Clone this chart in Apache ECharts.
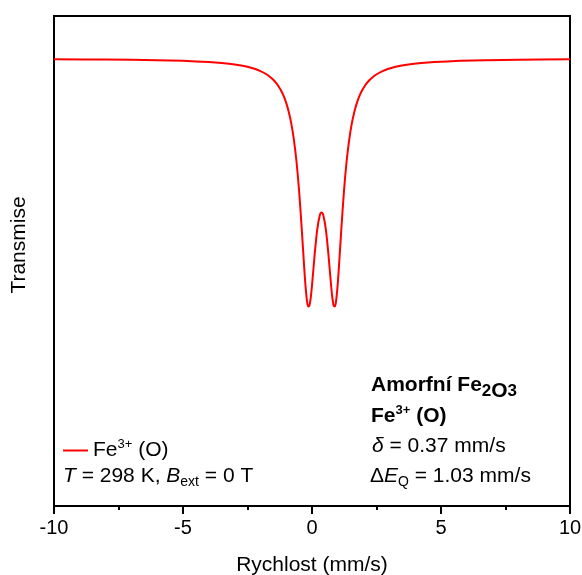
<!DOCTYPE html>
<html>
<head>
<meta charset="utf-8">
<script src="https://cdn.jsdelivr.net/npm/echarts@6/dist/echarts.min.js"></script>
<style>
  html, body { margin: 0; padding: 0; background: #fff; }
  #chart { width: 582px; height: 575px; }
</style>
</head>
<body>
<div id="chart"></div>
<script>
// Velocity (mm/s) and relative transmission, estimated from the reference spectrum
const velocity = [-10, -8, -6, -5, -4, -3.5, -3, -2.5, -2.2, -2,
  -1.8, -1.6, -1.5, -1.4, -1.3, -1.2, -1.1, -1, -0.9, -0.8,
  -0.7, -0.6, -0.5, -0.4, -0.3, -0.25, -0.2, -0.15, -0.1, -0.05,
  0, 0.1, 0.2, 0.3, 0.37, 0.44, 0.54, 0.64, 0.74, 0.79,
  0.84, 0.89, 0.94, 0.99, 1.04, 1.14, 1.24, 1.34, 1.44, 1.54,
  1.64, 1.74, 1.84, 1.94, 2.04, 2.14, 2.24, 2.34, 2.54, 2.74,
  2.94, 3.24, 3.74, 4.24, 4.74, 5.74, 6.74, 8, 10];
const transmission = [0.99977, 0.99964, 0.99937, 0.99911, 0.99864, 0.99825, 0.99765, 0.99670, 0.99581, 0.99500,
  0.99392, 0.99243, 0.99147, 0.99031, 0.98890, 0.98715, 0.98496, 0.98215, 0.97850, 0.97368,
  0.96719, 0.95842, 0.94667, 0.93176, 0.91540, 0.90817, 0.90283, 0.90010, 0.90040, 0.90348,
  0.90851, 0.92063, 0.93089, 0.93676, 0.93797, 0.93676, 0.93089, 0.92063, 0.90851, 0.90348,
  0.90040, 0.90010, 0.90283, 0.90817, 0.91540, 0.93176, 0.94667, 0.95842, 0.96719, 0.97368,
  0.97850, 0.98215, 0.98496, 0.98715, 0.98890, 0.99031, 0.99147, 0.99243, 0.99392, 0.99500,
  0.99581, 0.99670, 0.99765, 0.99825, 0.99864, 0.99911, 0.99937, 0.99956, 0.99973];
const seriesName = 'Fe3+ (O)';
const xTicks = [-10, -5, 0, 5, 10];

const FONT = '"Liberation Sans", Arial, sans-serif';
const chart = echarts.init(document.getElementById('chart'), null, { renderer: 'canvas' });

const base = { fontFamily: FONT, fontSize: 21, color: '#000', lineHeight: 23 };
const rich = {
  n: Object.assign({}, base),
  i: Object.assign({}, base, { fontStyle: 'italic' }),
  b: Object.assign({}, base, { fontWeight: 'bold' }),
  blow: Object.assign({}, base, { fontWeight: 'bold', padding: [12, 0, 0, 0] }),
  bsub: Object.assign({}, base, { fontWeight: 'bold', fontSize: 17, lineHeight: 19, padding: [12, 0, 0, 0] }),
  bsup: Object.assign({}, base, { fontWeight: 'bold', fontSize: 13, lineHeight: 15, padding: [0, 0, 12, 0] }),
  sup: Object.assign({}, base, { fontSize: 13, lineHeight: 15, padding: [0, 0, 12, 0] }),
  sub: Object.assign({}, base, { fontSize: 14, lineHeight: 15, padding: [12, 0, 0, 0] })
};

const option = {
  backgroundColor: '#fff',
  animation: false,
  grid: { left: 54, right: 12, top: 16, bottom: 69, containLabel: false, outerBoundsMode: 'none',
    show: true, borderColor: '#000', borderWidth: 2, backgroundColor: 'transparent' },
  xAxis: {
    type: 'value', min: -10, max: 10, interval: 5,
    name: 'Rychlost (mm/s)', nameLocation: 'middle', nameGap: 49,
    nameTextStyle: { fontFamily: FONT, fontSize: 21, color: '#000' },
    axisLine: { show: true, onZero: false, lineStyle: { color: '#000', width: 2 } },
    axisTick: { show: true, inside: false, length: 8, lineStyle: { color: '#000', width: 2 } },
    minorTick: { show: true, splitNumber: 2, length: 4, lineStyle: { color: '#000', width: 2 } },
    axisLabel: { show: true, margin: 12, fontFamily: FONT, fontSize: 20, color: '#000',
      formatter: v => xTicks.includes(v) ? String(v) : '' },
    splitLine: { show: false }
  },
  yAxis: {
    type: 'value', min: 0.8196, max: 1.0172,
    name: 'Transmise', nameLocation: 'middle', nameGap: 24,
    nameTextStyle: { fontFamily: FONT, fontSize: 21, color: '#000', padding: [0, 0, 0, 32] },
    axisLine: { show: false, onZero: false },
    axisTick: { show: false },
    axisLabel: { show: false },
    splitLine: { show: false }
  },
  legend: {
    left: 58, top: 433, orient: 'vertical',
    itemWidth: 25, itemHeight: 2, itemGap: 0,
    data: [{ name: seriesName, icon: 'rect' }],
    formatter: () => '{n|Fe}{sup|3+}{n| (O)}',
    textStyle: { rich: rich }
  },
  series: [{
    name: seriesName,
    type: 'line',
    data: velocity.map((v, k) => [v, transmission[k]]),
    showSymbol: false, symbol: 'none',
    smooth: 0.3,
    lineStyle: { color: '#ff0000', width: 2 },
    itemStyle: { color: '#ff0000' }
  }],
  graphic: [
    { type: 'text', x: 63, y: 476, style: { text: '{i|T}{n| = 298 K, }{i|B}{sub|ext}{n| = 0 T}', rich: rich, align: 'left', verticalAlign: 'middle' } },
    { type: 'text', x: 371, y: 385, style: { text: '{b|Amorfní Fe}{bsub|2}{blow|O}{bsub|3}', rich: rich, align: 'left', verticalAlign: 'middle' } },
    { type: 'text', x: 371, y: 416, style: { text: '{b|Fe}{bsup|3+}{b| (O)}', rich: rich, align: 'left', verticalAlign: 'middle' } },
    { type: 'text', x: 372, y: 446, style: { text: '{i|δ}{n| = 0.37 mm/s}', rich: rich, align: 'left', verticalAlign: 'middle' } },
    { type: 'text', x: 370, y: 476, style: { text: '{n|Δ}{i|E}{sub|Q}{n| = 1.03 mm/s}', rich: rich, align: 'left', verticalAlign: 'middle' } }
  ]
};
chart.setOption(option);
</script>
</body>
</html>
